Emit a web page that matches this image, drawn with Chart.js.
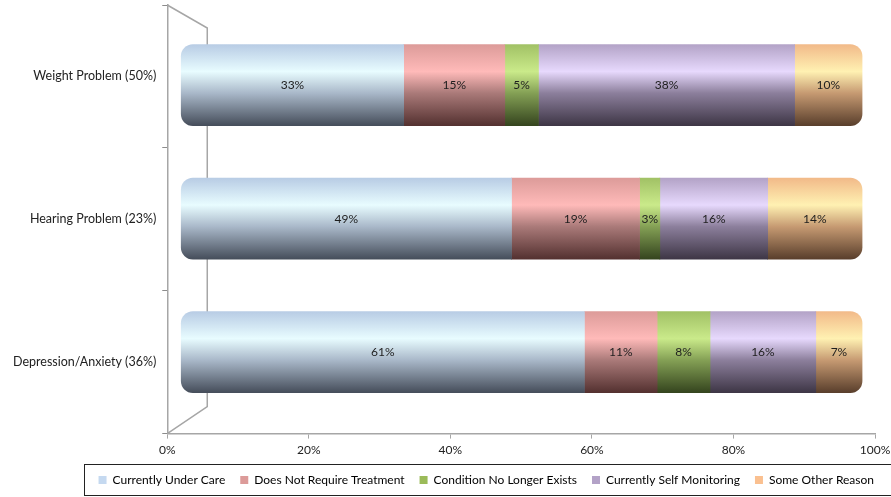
<!DOCTYPE html>
<html>
<head>
<meta charset="utf-8">
<script src="https://cdn.jsdelivr.net/npm/chart.js@4/dist/chart.umd.min.js"></script>
<style>
  html, body { margin: 0; padding: 0; background: #fff; }
  #wrap { width: 891px; height: 497px; position: relative; }
</style>
</head>
<body>
<div id="wrap"><canvas id="chart"></canvas></div>
<script>
const categories = ['Weight Problem (50%)', 'Hearing Problem (23%)', 'Depression/Anxiety (36%)'];
const seriesNames = ['Currently Under Care', 'Does Not Require Treatment', 'Condition No Longer Exists', 'Currently Self Monitoring', 'Some Other Reason'];
const underCare = [33, 49, 61];
const noTreatment = [15, 19, 11];
const noLongerExists = [5, 3, 8];
const selfMonitoring = [38, 16, 16];
const otherReason = [10, 14, 7];
const xTicks = [0, 20, 40, 60, 80, 100];

const series = [underCare, noTreatment, noLongerExists, selfMonitoring, otherReason];
const legendColors = ['#c5d9f0', '#dc9b99', '#9bbb59', '#b3a2c7', '#fac090'];
// top, highlight, middle, bottom of the cylinder shading
const shades = [
    ['#b9cde5', '#e8fcff', '#a9b8c9', '#474f5c'],
    ['#dd9c9a', '#ffbab9', '#aa7a79', '#553231'],
    ['#a2c266', '#caea8a', '#84a055', '#36461f'],
    ['#b4a4c8', '#e7d9fd', '#8c7f9c', '#3f3747'],
    ['#f2bb8a', '#fff1b2', '#c69a72', '#5b402d']
];

const rowTotals = categories.map((c, j) => series.reduce((s, arr) => s + arr[j], 0));

const makeFill = (si) => (ctx) => {
    const chart = ctx.chart;
    const yb = chart.scales.yb;
    if (!chart.chartArea || !yb || ctx.dataIndex === undefined) return shades[si][1];
    const yc = yb.getPixelForValue(ctx.dataIndex);
    const g = chart.ctx.createLinearGradient(0, yc - 40, 0, yc + 40);
    g.addColorStop(0, shades[si][0]);
    g.addColorStop(0.33, shades[si][1]);
    g.addColorStop(0.6, shades[si][2]);
    g.addColorStop(1, shades[si][3]);
    return g;
};

const datasets = series.map((arr, si) => ({
    label: seriesNames[si],
    data: arr.map((v, j) => ({ x: v / rowTotals[j] * 100, y: j })),
    backgroundColor: makeFill(si),
    borderWidth: 0,
    borderSkipped: false,
    borderRadius: si === 0 ? { topLeft: 12, bottomLeft: 12, topRight: 0, bottomRight: 0 }
        : si === series.length - 1 ? { topLeft: 0, bottomLeft: 0, topRight: 12, bottomRight: 12 } : 0,
    barThickness: 81,
    xAxisID: 'xb',
    yAxisID: 'yb'
}));

// 3D side wall lines
const wallPlugin = {
    id: 'wall',
    beforeDatasetsDraw(chart) {
        const { ctx, chartArea: a } = chart;
        ctx.save();
        ctx.strokeStyle = '#a6a6a6';
        ctx.lineWidth = 1.5;
        ctx.beginPath();
        ctx.moveTo(a.left, a.top);
        ctx.lineTo(a.left + 40, a.top + 23);
        ctx.lineTo(a.left + 40, a.bottom - 27);
        ctx.lineTo(a.left, a.bottom);
        ctx.stroke();
        ctx.restore();
    }
};

// value labels + legend frame
const labelPlugin = {
    id: 'valueLabels',
    afterDatasetsDraw(chart) {
        const ctx = chart.ctx;
        ctx.save();
        ctx.font = '12px Lato';
        ctx.fillStyle = '#1e1e1e';
        ctx.textAlign = 'center';
        ctx.textBaseline = 'middle';
        series.forEach((arr, si) => {
            chart.getDatasetMeta(si).data.forEach((el, j) => {
                const p = el.getCenterPoint();
                ctx.fillText(arr[j] + '%', p.x, p.y);
            });
        });
        ctx.restore();
    },
    afterDraw(chart) {
        const lg = chart.legend;
        if (!lg || !lg.legendHitBoxes || !lg.legendHitBoxes.length) return;
        const boxes = lg.legendHitBoxes;
        const first = boxes[0], last = boxes[boxes.length - 1];
        const ctx = chart.ctx;
        ctx.save();
        ctx.strokeStyle = '#222';
        ctx.lineWidth = 1;
        ctx.strokeRect(Math.round(first.left - 15) + 0.5, Math.round(first.top - 10) + 0.5,
            Math.round(last.left + last.width - first.left + 32), 31);
        ctx.restore();
    }
};

new Chart(document.getElementById('chart').getContext('2d'), {
    type: 'bar',
    data: { labels: categories, datasets },
    options: {
        indexAxis: 'y',
        responsive: true,
        maintainAspectRatio: false,
        animation: false,
        layout: { padding: { top: 5, right: 2, left: 7, bottom: 1 } },
        scales: {
            x: {
                type: 'linear',
                position: 'bottom',
                min: 0,
                max: 100,
                afterBuildTicks: (s) => { s.ticks = xTicks.map(v => ({ value: v })); },
                afterFit: (s) => { s.height -= 2; s.paddingLeft = 0; s.paddingRight = 16; },
                ticks: { callback: v => v + '%', color: '#222', font: { family: 'Lato', size: 12 }, padding: 4 },
                grid: { drawOnChartArea: false, tickLength: 5, color: '#a6a6a6' },
                border: { color: '#a6a6a6', width: 1.5 }
            },
            xb: {
                type: 'linear',
                display: false,
                stacked: true,
                min: -2.05,
                max: 101.9
            },
            y: {
                type: 'category',
                position: 'left',
                offset: true,
                afterFit: (s) => { s.paddingTop = 0; s.paddingBottom = 0; },
                ticks: { color: '#222', font: { family: 'Lato', size: 12.5 }, padding: 6 },
                grid: { drawOnChartArea: false, offset: true, tickLength: 5, color: '#8c8c8c' },
                border: { color: '#a6a6a6', width: 1.5 }
            },
            yb: {
                type: 'linear',
                display: false,
                stacked: true,
                reverse: true,
                offset: false,
                min: -0.6,
                max: 2.61
            }
        },
        plugins: {
            tooltip: { enabled: false },
            legend: {
                position: 'bottom',
                align: 'end',
                labels: {
                    boxWidth: 8,
                    boxHeight: 8,
                    padding: 15,
                    color: '#222',
                    font: { family: 'Lato', size: 12 },
                    generateLabels: () => seriesNames.map((n, i) => ({
                        text: n, fillStyle: legendColors[i], strokeStyle: legendColors[i],
                        lineWidth: 0, datasetIndex: i, hidden: false
                    }))
                }
            }
        }
    },
    plugins: [wallPlugin, labelPlugin]
});
</script>
</body>
</html>
